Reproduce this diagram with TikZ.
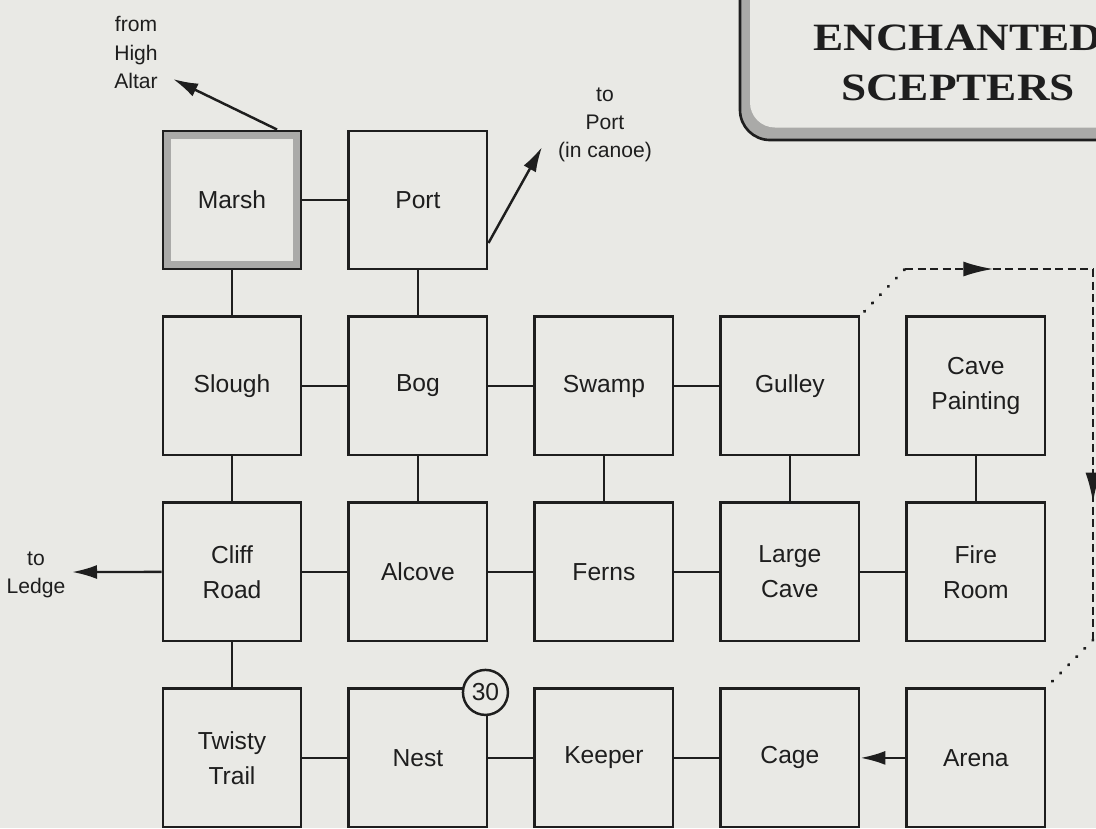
\documentclass[tikz,border=0pt]{standalone}
\usepackage{fontspec}
\setmainfont{Liberation Sans}
\newfontfamily\titlefont[FakeStretch=1.17]{Liberation Serif}
\usetikzlibrary{arrows.meta,positioning,decorations.markings,calc}
\definecolor{paper}{RGB}{233,233,229}
\definecolor{ink}{RGB}{30,30,30}
\definecolor{stipple}{RGB}{170,170,168}

\begin{document}
\begin{tikzpicture}[node distance=0.9cm and 0.9cm, every node/.style={font=\fontsize{14}{20}\selectfont, text=ink}]
\tikzset{room/.style={draw=ink, line width=1.4pt, minimum size=2.77cm, align=center, inner sep=0pt}}
\tikzset{startroom/.style={room, path picture={\draw[stipple, line width=0.14cm] ([shift={(0.09,0.09)}]path picture bounding box.south west) rectangle ([shift={(-0.09,-0.09)}]path picture bounding box.north east);}}}
\tikzset{note/.style={align=center, font=\fontsize{12}{16}\selectfont}}
\tikzset{badge/.style={draw=ink, line width=1.4pt, circle, fill=paper, minimum size=0.9cm, inner sep=0pt}}
\tikzset{link/.style={draw=ink, line width=1.4pt}}
\tikzset{arrow/.style={link, -{Latex[length=5mm,width=2.8mm]}}}
\tikzset{dashes/.style={draw=ink, line width=1.4pt, dash pattern=on 0.16cm off 0.09cm}}
\tikzset{dots/.style={draw=ink, line width=1.8pt, line cap=round, dash pattern=on 0.01cm off 0.22cm}}
\tikzset{midtip/.style={postaction={decorate}, decoration={markings, mark=at position #1 with {\arrow{Latex[length=6mm,width=3mm]}}}}}
\useasboundingbox (0,0) rectangle (21.92,-16.56);
\fill[paper] (0,0) rectangle (21.92,-16.56);
% title plate
\fill[stipple, rounded corners=0.6cm] (14.8,-2.8) rectangle (23,1);
\fill[paper, rounded corners=0.5cm] (15.0,-2.55) rectangle (23,1);
\draw[ink, line width=1.5pt, rounded corners=0.6cm] (14.8,-2.8) rectangle (23,1);
\node[font=\titlefont\bfseries\fontsize{22}{28}\selectfont, anchor=base] (title1) at (19.16,-1.0) {ENCHANTED};
\node[font=\titlefont\bfseries\fontsize{22}{28}\selectfont, anchor=base] (title2) at (19.16,-2.0) {SCEPTERS};
% rooms
\node[startroom] (marsh) at (4.64,-4.0) {Marsh};
\node[room, right=of marsh] (port) {Port};
\node[room, below=of marsh] (slough) {Slough};
\node[room, right=of slough] (bog) {Bog};
\node[room, right=of bog] (swamp) {Swamp};
\node[room, right=of swamp] (gulley) {Gulley};
\node[room, right=of gulley] (painting) {Cave\\Painting};
\node[room, below=of slough] (cliff) {Cliff\\Road};
\node[room, right=of cliff] (alcove) {Alcove};
\node[room, right=of alcove] (ferns) {Ferns};
\node[room, right=of ferns] (bigcave) {Large\\Cave};
\node[room, right=of bigcave] (fireroom) {Fire\\Room};
\node[room, below=of cliff] (twisty) {Twisty\\Trail};
\node[room, right=of twisty] (nest) {Nest};
\node[room, right=of nest] (keeper) {Keeper};
\node[room, right=of keeper] (cage) {Cage};
\node[room, right=of cage] (arena) {Arena};
\node[badge] (n30) at ([shift={(-0.06,-0.1)}]nest.north east) {30};
% exits
\node[note] (altar) at (2.72,-1.05) {from\\High\\Altar};
\node[note] (canoe) at (12.1,-2.5) {to\\Port\\(in canoe)};
\node[note] (ledge) at (0.72,-11.5) {to\\Ledge};
\coordinate (altartip) at (3.46,-1.58);
\coordinate (canoetip) at (10.84,-2.94);
\coordinate (ledgetip) at (1.44,-11.44);
\coordinate (d1) at ([shift={(0.08,0.08)}]gulley.north east);
\coordinate (d2) at (18.1,-5.38);
\coordinate (d3) at (21.86,-5.38);
\coordinate (d4) at (21.86,-12.8);
\coordinate (d5) at ([shift={(0.06,0.06)}]arena.north east);
% passages
\draw[link] (marsh) -- (port);
\draw[link] (marsh) -- (slough);
\draw[link] (port) -- (bog);
\draw[link] (slough) -- (bog);
\draw[link] (bog) -- (swamp);
\draw[link] (swamp) -- (gulley);
\draw[link] (slough) -- (cliff);
\draw[link] (bog) -- (alcove);
\draw[link] (swamp) -- (ferns);
\draw[link] (gulley) -- (bigcave);
\draw[link] (painting) -- (fireroom);
\draw[link] (cliff) -- (alcove);
\draw[link] (alcove) -- (ferns);
\draw[link] (ferns) -- (bigcave);
\draw[link] (bigcave) -- (fireroom);
\draw[link] (cliff) -- (twisty);
\draw[link] (twisty) -- (nest);
\draw[link] (nest) -- (keeper);
\draw[link] (keeper) -- (cage);
\draw[arrow] (arena) -- (cage);
\draw[arrow] ([xshift=0.9cm]marsh.north) -- (altartip);
\draw[arrow] ([yshift=-0.86cm]port.east) -- (canoetip);
\draw[arrow] (cliff) -- (ledgetip);
% one-way loop
\draw[dots] (d1) -- (d2);
\draw[dashes, midtip=0.47] (d2) -- (d3);
\draw[dashes, midtip=0.63] (d3) -- (d4);
\draw[dots] (d4) -- (d5);
\end{tikzpicture}
\end{document}
